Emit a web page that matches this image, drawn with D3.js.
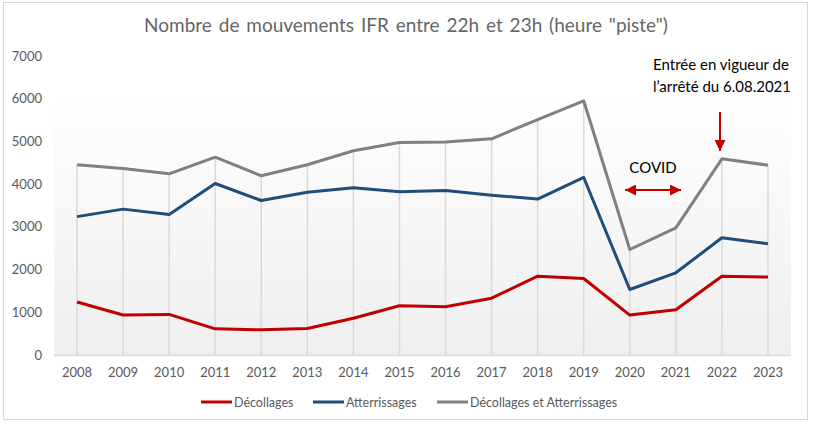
<!DOCTYPE html>
<html><head><meta charset="utf-8">
<script src="https://cdn.jsdelivr.net/npm/d3@7"></script>
<style>body{margin:0;background:#fff;} svg{display:block;font-family:Lato,"Open Sans",sans-serif;}</style>
</head><body>
<script>
const years = ["2008","2009","2010","2011","2012","2013","2014","2015","2016","2017","2018","2019","2020","2021","2022","2023"];
const decollages = [1240,935,950,612,590,620,862,1152,1130,1330,1845,1790,935,1058,1845,1825];
const atterrissages = [3240,3415,3290,4015,3617,3812,3914,3821,3852,3742,3650,4156,1534,1924,2744,2604];
const total = [4455,4366,4242,4631,4196,4453,4781,4975,4985,5062,5513,5951,2470,2978,4593,4444];
const yTicks = [0,1000,2000,3000,4000,5000,6000,7000];
const seriesNames = ["Décollages","Atterrissages","Décollages et Atterrissages"];
const seriesColors = ["#C00000","#1F4E79","#808080"];
const title = 'Nombre de mouvements IFR entre 22h et 23h (heure "piste")';

const W = 813, H = 429;
const svg = d3.select("body").append("svg").attr("width", W).attr("height", H);
const defs = svg.append("defs");
const grad = defs.append("linearGradient").attr("id","bg").attr("x1",0).attr("y1",0).attr("x2",0).attr("y2",1);
grad.append("stop").attr("offset","0%").attr("stop-color","#ffffff");
grad.append("stop").attr("offset","100%").attr("stop-color","#efefef");
defs.append("marker").attr("id","arr").attr("viewBox","0 0 10 10").attr("refX",10).attr("refY",5)
  .attr("markerWidth",5.5).attr("markerHeight",5.5).attr("orient","auto-start-reverse").attr("markerUnits","strokeWidth")
  .append("path").attr("d","M0,0 L10,5 L0,10 z").attr("fill","#C00000");

svg.append("rect").attr("x",3.5).attr("y",2.5).attr("width",804).attr("height",417)
  .attr("fill","#fff").attr("stroke","#d9d9d9").attr("stroke-width",1);

const x = d3.scaleBand().domain(years).range([54, 791]);
const cx = d => x(d) + x.bandwidth()/2;
const y = d3.scaleLinear().domain([0,7000]).range([355, 56]);

svg.append("rect").attr("x",54).attr("y",90).attr("width",737).attr("height",y(0)-90).attr("fill","url(#bg)");

// drop lines
svg.append("g").selectAll("line").data(years).join("line")
  .attr("x1",d=>cx(d)).attr("x2",d=>cx(d))
  .attr("y1",(d,i)=>y(total[i])).attr("y2",y(0))
  .attr("stroke","#d9d9d9").attr("stroke-width",1.5);

// x axis line
svg.append("line").attr("x1",54).attr("x2",791).attr("y1",y(0)+0.5).attr("y2",y(0)+0.5)
  .attr("stroke","#d9d9d9").attr("stroke-width",1.5);

// y labels
svg.append("g").selectAll("text").data(yTicks).join("text")
  .attr("x",42).attr("y",d=>y(d)+4.5).attr("text-anchor","end")
  .attr("font-size",13).attr("fill","#595959").text(d=>d);

// x labels
svg.append("g").selectAll("text").data(years).join("text")
  .attr("x",d=>cx(d)).attr("y",377).attr("text-anchor","middle")
  .attr("font-size",13).attr("fill","#595959").text(d=>d);

// lines
const line = d3.line().x((d,i)=>cx(years[i])).y(d=>y(d));
[[total,2],[atterrissages,1],[decollages,0]].forEach(([s,k])=>{
  svg.append("path").datum(s).attr("d",line).attr("fill","none")
    .attr("stroke",seriesColors[k]).attr("stroke-width",3).attr("stroke-linejoin","round");
});

// title
svg.append("text").attr("x",406).attr("y",32).attr("text-anchor","middle")
  .attr("font-size",19).attr("fill","#666666").attr("word-spacing",2).text(title);

// legend
const legX = [201,313,437];
seriesNames.forEach((t,i)=>{
  svg.append("line").attr("x1",legX[i]).attr("x2",legX[i]+31).attr("y1",402).attr("y2",402).attr("stroke",seriesColors[i]).attr("stroke-width",3);
  svg.append("text").attr("x",legX[i]+33).attr("y",406.5).attr("font-size",12.5).attr("fill","#595959").text(t);
});

// annotations
svg.append("text").attr("x",721).attr("y",70).attr("text-anchor","middle").attr("font-size",15).attr("fill","#000").text("Entrée en vigueur de");
svg.append("text").attr("x",722).attr("y",92).attr("text-anchor","middle").attr("font-size",15).attr("fill","#000").text("l’arrêté du 6.08.2021");
svg.append("text").attr("x",653).attr("y",173).attr("text-anchor","middle").attr("font-size",15).attr("fill","#000").text("COVID");
svg.append("line").attr("x1",720).attr("x2",720).attr("y1",112).attr("y2",151)
  .attr("stroke","#C00000").attr("stroke-width",2).attr("marker-end","url(#arr)");
svg.append("line").attr("x1",625).attr("x2",681).attr("y1",190).attr("y2",190)
  .attr("stroke","#C00000").attr("stroke-width",2).attr("marker-end","url(#arr)").attr("marker-start","url(#arr)");
</script>
</body></html>
